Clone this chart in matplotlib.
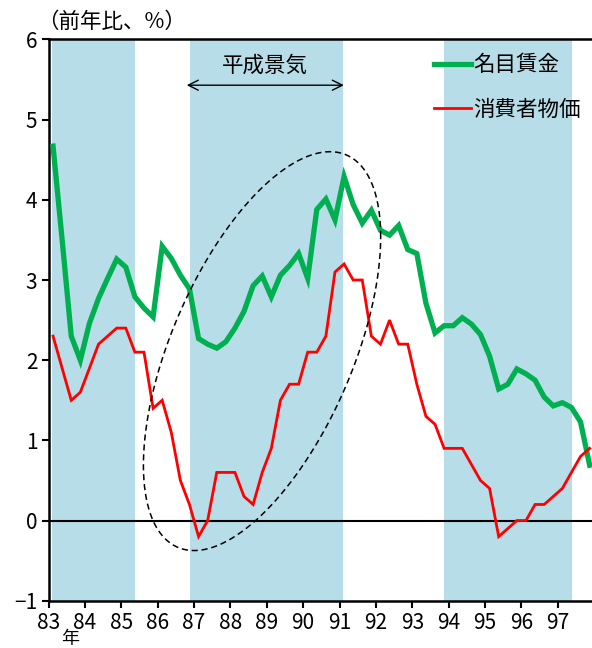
import numpy as np
import matplotlib
matplotlib.use("Agg")
import matplotlib.pyplot as plt

plt.rcParams['font.family'] = ['Noto Sans CJK JP', 'DejaVu Sans']

# quarterly data, 1983Q1 - 1997Q4 (前年比, %)
years = list(range(83, 98))
wages = [4.67, 3.50, 2.30, 2.00,
         2.46, 2.77, 3.02, 3.26,
         3.16, 2.79, 2.65, 2.54,
         3.42, 3.27, 3.06, 2.89,
         2.27, 2.20, 2.15, 2.23,
         2.40, 2.61, 2.93, 3.05,
         2.79, 3.06, 3.18, 3.33,
         3.02, 3.88, 4.01, 3.75,
         4.29, 3.94, 3.71, 3.87,
         3.62, 3.56, 3.68, 3.38,
         3.33, 2.71, 2.34, 2.43,
         2.43, 2.53, 2.45, 2.32,
         2.05, 1.64, 1.70, 1.89,
         1.83, 1.75, 1.54, 1.43,
         1.47, 1.41, 1.23, 0.69]
cpi = [2.3, 1.9, 1.5, 1.6,
       1.9, 2.2, 2.3, 2.4,
       2.4, 2.1, 2.1, 1.4,
       1.5, 1.1, 0.5, 0.2,
       -0.2, 0.0, 0.6, 0.6,
       0.6, 0.3, 0.2, 0.6,
       0.9, 1.5, 1.7, 1.7,
       2.1, 2.1, 2.3, 3.1,
       3.2, 3.0, 3.0, 2.3,
       2.2, 2.5, 2.2, 2.2,
       1.7, 1.3, 1.2, 0.9,
       0.9, 0.9, 0.7, 0.5,
       0.4, -0.2, -0.1, 0.0,
       0.0, 0.2, 0.2, 0.3,
       0.4, 0.6, 0.8, 0.9]
# shaded periods (start, end) in years
shades = [(83.1, 85.38), (86.88, 91.1), (93.87, 97.38)]
boom_label = "平成景気"
boom_span = (86.8, 91.12)

x = years[0] + 0.125 + np.arange(len(wages)) / 4

fig = plt.figure(figsize=(5.92, 6.48), dpi=100)
ax = fig.add_axes([48.5 / 592, 47.3 / 648, 1 - 48.5 / 592, 561.2 / 648])

for s, e in shades:
    ax.axvspan(s, e, color='#B7DDE8', lw=0, zorder=0)

ax.axhline(0, color='black', lw=1.5, zorder=1)
ax.plot(x, wages, color='#00B050', lw=3.8, label='名目賃金', zorder=3,
        solid_joinstyle='miter')
ax.plot(x, cpi, color='#FF0000', lw=2.0, label='消費者物価', zorder=3,
        solid_joinstyle='miter')

# dashed ellipse around the boom period
t = np.linspace(0, 2 * np.pi, 300)
cx, cy = 88.87, 2.113
ex = cx + 3.261 * np.cos(t)
ey = cy + 1.425 * np.cos(t) + 2.039 * np.sin(t)
ax.plot(ex, ey, color='black', lw=1.1, ls=(0, (4, 2.5)), zorder=4)

# boom arrow
ax.annotate('', xy=(boom_span[0], 5.43), xytext=(boom_span[1], 5.43),
            arrowprops=dict(arrowstyle='<->', color='black', lw=1.0,
                            mutation_scale=18, shrinkA=0, shrinkB=0))
ax.text(sum(boom_span) / 2, 5.67, boom_label, ha='center', va='center',
        fontsize=15.5)

ax.set_xlim(83, 97.94)
ax.set_ylim(-1, 6)
ax.set_xticks(years)
ax.set_xticklabels([str(y) for y in years])
ax.set_yticks(range(-1, 7))
ax.set_yticklabels(['−1' if v == -1 else str(v) for v in range(-1, 7)])
ax.tick_params(axis='both', direction='out', length=5, width=1.5,
               labelsize=15, colors='black')
ax.tick_params(axis='x', pad=3)
ax.tick_params(axis='y', pad=3)
for side in ['left', 'bottom', 'top']:
    ax.spines[side].set_linewidth(1.8)
ax.spines['right'].set_visible(False)

leg = ax.legend(loc='upper left', bbox_to_anchor=(0.693, 0.989), frameon=False,
                fontsize=15.5, handlelength=1.72, handletextpad=0.12,
                labelspacing=1.05, borderaxespad=0)

fig.text(37 / 592, 1 - 22 / 648, '（前年比、%）', ha='left', va='center',
         fontsize=15.5)
fig.text(70 / 592, 1 - 639 / 648, '年', ha='center', va='center', fontsize=13)

fig.savefig('out.png', dpi=100)
